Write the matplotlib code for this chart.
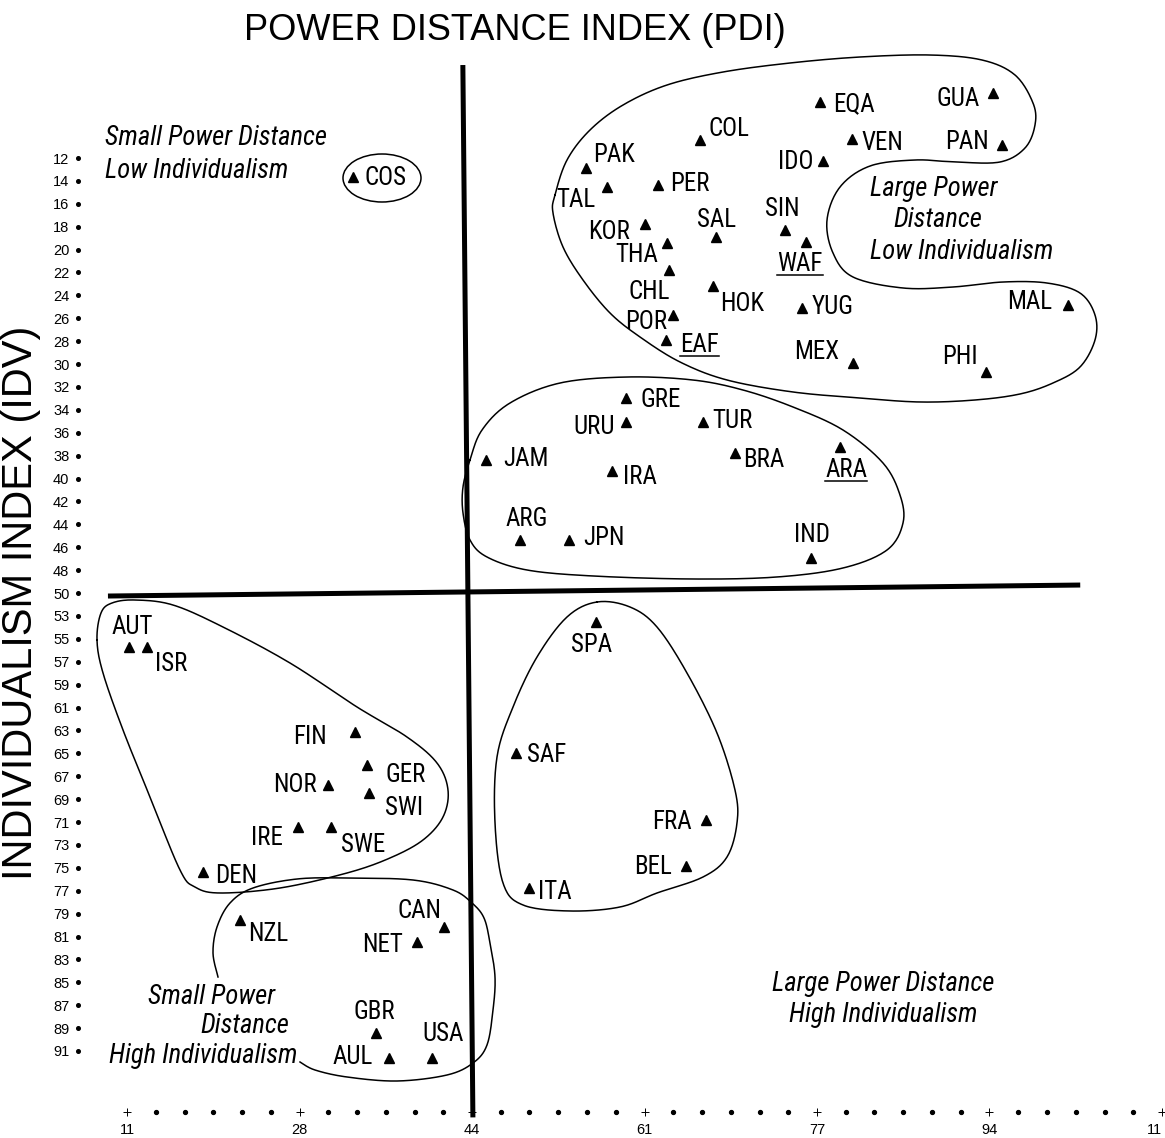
import numpy as np
import matplotlib
matplotlib.use('Agg')
import matplotlib.pyplot as plt
from matplotlib import font_manager
from matplotlib.transforms import Affine2D
from matplotlib.patches import Ellipse
from matplotlib.lines import Line2D

W, H = 1165, 1138

# Countries: Power Distance Index (x) vs Individualism Index (y)
countries = ['COS', 'PAK', 'TAL', 'COL', 'PER', 'IDO', 'SIN', 'WAF', 'KOR', 'THA',
             'SAL', 'CHL', 'HOK', 'POR', 'EAF', 'YUG', 'EQA', 'GUA', 'VEN', 'PAN',
             'MAL', 'MEX', 'PHI', 'GRE', 'URU', 'TUR', 'JAM', 'IRA', 'BRA', 'ARA',
             'ARG', 'JPN', 'IND', 'AUT', 'ISR', 'FIN', 'GER', 'NOR', 'SWI', 'IRE',
             'SWE', 'DEN', 'NZL', 'CAN', 'NET', 'GBR', 'AUL', 'USA', 'SPA', 'SAF',
             'FRA', 'BEL', 'ITA']
pdi = [32.8, 55.3, 57.4, 66.4, 62.3, 78.2, 74.6, 76.6, 61.0, 63.2,
       67.9, 63.4, 67.6, 63.8, 63.1, 76.2, 78.0, 94.7, 81.0, 95.5,
       101.9, 81.1, 94.0, 59.2, 59.2, 66.7, 45.7, 57.9, 69.7, 79.9,
       49.0, 53.7, 77.1, 11.2, 12.9, 33.0, 34.2, 30.4, 34.4, 27.5,
       30.7, 18.3, 21.9, 41.6, 39.0, 35.1, 36.3, 40.5, 56.3, 48.6,
       66.9, 65.0, 49.8]
idv = [13.7, 12.9, 14.5, 10.4, 14.4, 12.3, 18.3, 19.3, 17.8, 19.4,
       18.9, 21.8, 23.2, 25.7, 27.9, 25.1, 7.1, 6.3, 10.3, 10.9,
       24.8, 29.9, 30.7, 33.0, 35.1, 35.1, 38.4, 39.3, 37.8, 37.2,
       45.4, 45.4, 46.9, 55.7, 55.7, 63.1, 66.0, 67.8, 68.5, 71.4,
       71.4, 75.4, 79.6, 80.2, 81.5, 89.4, 91.6, 91.6, 53.5, 65.0,
       70.8, 74.8, 76.8]
underlined = ['WAF', 'EAF', 'ARA']  # regions

y_ticks = list(range(12, 51, 2)) + list(range(53, 92, 2))
x_tick_labels = ['11', '28', '44', '61', '77', '94', '11']
pdi_split, idv_split = 44, 50

# label placement: alignment, dx, dy in pixels (dy downwards)
label_pos = {
    'COS': ('left', 12, -1), 'PAK': ('left', 8, -15), 'TAL': ('right', -12, 11),
    'COL': ('left', 8, -13), 'PER': ('left', 12, -3), 'IDO': ('right', -9, -1),
    'SIN': ('center', -3, -23), 'WAF': ('center', -6, 20), 'KOR': ('right', -15, 6),
    'THA': ('right', -9, 10), 'SAL': ('center', 1, -19), 'CHL': ('center', -20, 20),
    'HOK': ('left', 7, 16), 'POR': ('right', -6, 5), 'EAF': ('left', 14, 3),
    'YUG': ('left', 10, -3), 'EQA': ('left', 13, 0), 'GUA': ('right', -14, 4),
    'VEN': ('left', 10, 2), 'PAN': ('right', -13, -5), 'MAL': ('right', -16, -5),
    'MEX': ('right', -13, -13), 'PHI': ('center', -26, -17), 'GRE': ('left', 15, 0),
    'URU': ('right', -11, 3), 'TUR': ('left', 9, -3), 'JAM': ('left', 17, -3),
    'IRA': ('left', 11, 4), 'BRA': ('left', 9, 5), 'ARA': ('center', 6, 21),
    'ARG': ('center', 6, -23), 'JPN': ('left', 14, -4), 'IND': ('center', 1, -25),
    'AUT': ('center', 3, -22), 'ISR': ('left', 8, 15), 'FIN': ('right', -28, 3),
    'GER': ('left', 18, 8), 'NOR': ('right', -11, -2), 'SWI': ('left', 16, 13),
    'IRE': ('right', -15, 9), 'SWE': ('left', 10, 16), 'DEN': ('left', 13, 2),
    'NZL': ('left', 8, 12), 'CAN': ('center', -24, -18), 'NET': ('right', -14, 1),
    'GBR': ('center', -2, -23), 'AUL': ('right', -16, -3), 'USA': ('center', 11, -26),
    'SPA': ('center', -4, 21), 'SAF': ('left', 11, 0), 'FRA': ('right', -14, 0),
    'BEL': ('right', -14, -1), 'ITA': ('left', 9, 2),
}


def idv_to_row(v):
    """Row position on the (non-linear) IDV axis."""
    v = np.asarray(v, float)
    return np.where(v <= 50, (v - 12) / 2,
                    np.where(v >= 53, 20 + (v - 53) / 2, 19 + (v - 50) / 3))


def smooth(pts, closed=True, n=16):
    """Catmull-Rom curve through hand-picked points."""
    p = np.asarray(pts, float)
    if closed:
        P = np.vstack([p[-1], p, p[0], p[1]])
        nseg = len(p)
    else:
        P = np.vstack([p[0], p, p[-1]])
        nseg = len(p) - 1
    t = np.linspace(0, 1, n, endpoint=False)[:, None]
    out = []
    for i in range(1, nseg + 1):
        p0, p1, p2, p3 = P[i - 1], P[i], P[i + 1], P[i + 2]
        out.append(0.5 * (2 * p1 + (-p0 + p2) * t + (2 * p0 - 5 * p1 + 4 * p2 - p3) * t ** 2
                          + (-p0 + 3 * p1 - 3 * p2 + p3) * t ** 3))
    out.append(P[nseg + 1][None, :] if not closed else p[:1])
    return np.vstack(out)


available = {f.name for f in font_manager.fontManager.ttflist}
narrow = 'Roboto'
for cand in ['Liberation Sans Narrow', 'Roboto Condensed', 'Open Sans Condensed']:
    if cand in available:
        narrow = cand
        break

fig = plt.figure(figsize=(W / 100, H / 100), dpi=100)
ax = fig.add_axes([127 / W, (H - 1051) / H, 1035 / W, 893 / H])
ax.set_xlim(11, 111)
ax.set_ylim(39, 0)
for s in ax.spines.values():
    s.set_visible(False)

# pixel frame for the hand-drawn outlines and free text
pix = Affine2D().scale(1 / W, -1 / H).translate(0, 1) + fig.transFigure

# axis ticks
rows = np.arange(len(y_ticks))
ax.set_yticks(rows, labels=[str(v) for v in y_ticks])
x_pos = np.linspace(11, 111, len(x_tick_labels))
ax.set_xticks(x_pos, labels=x_tick_labels)
ax.tick_params(axis='y', length=0, pad=41.5, labelsize=10.5)
ax.tick_params(axis='x', length=0, pad=52, labelsize=10.5)
for lab in ax.get_xticklabels() + ax.get_yticklabels():
    lab.set_family('Liberation Sans')
ax.get_xticklabels()[-1].set_ha('right')
ax.plot(np.full(len(rows), -49 / 1035), rows, 'o', ms=2.6, color='black',
        transform=ax.get_yaxis_transform(), clip_on=False)
dots = np.linspace(11, 111, 37)
row_axis = (1112 - 158) / 22.9
is_tick = np.isin(np.arange(37), np.arange(0, 37, 6))
ax.plot(dots[~is_tick], np.full((~is_tick).sum(), row_axis), 'o', ms=2.8,
        color='black', clip_on=False)
ax.plot(dots[is_tick], np.full(is_tick.sum(), row_axis), '+', ms=6, mew=0.7,
        color='black', clip_on=False)

# quadrant dividers
ax.plot([pdi_split - 0.55, pdi_split + 0.42], [-4.06, 41.9], color='black', lw=3.6,
        solid_capstyle='butt', clip_on=False)
ax.plot([9.16, 103.1], [idv_to_row(idv_split) + 0.13, idv_to_row(idv_split) - 0.35],
        color='black', lw=3.6, solid_capstyle='butt', clip_on=False)

# points and labels
rows_c = idv_to_row(idv)
ax.plot(pdi, rows_c, '^', ms=7.2, color='black', clip_on=False, lw=0)
texts = {}
for name, x, y in zip(countries, pdi, rows_c):
    ha, dx, dy = label_pos[name]
    texts[name] = ax.annotate(name, (x, y), xytext=(dx, -(dy + 9)), textcoords='offset pixels',
                              ha=ha, va='baseline', fontsize=18, family=narrow,
                              annotation_clip=False)

# cluster outlines
curve_kw = dict(color='black', lw=1.1, transform=pix, clip_on=False)
big = [(555, 195), (567, 160), (590, 130), (623, 105), (667, 85), (723, 72), (790, 63),
       (860, 57), (930, 55), (982, 60), (1015, 75), (1033, 103), (1035, 125), (1025, 148),
       (1000, 162), (955, 162), (915, 160), (870, 166), (840, 187), (827, 220), (833, 253),
       (853, 277), (903, 288), (953, 287), (1003, 282), (1047, 283), (1080, 293),
       (1095, 315), (1095, 340), (1080, 367), (1053, 383), (1020, 394), (975, 400),
       (920, 402), (860, 398), (793, 392), (727, 380), (680, 362), (640, 337), (610, 313),
       (583, 280), (563, 247), (553, 213)]
middle = [(470, 460), (463, 487), (463, 513), (470, 540), (487, 557), (527, 570),
          (593, 576), (693, 579), (777, 577), (843, 568), (887, 550), (903, 523),
          (900, 495), (883, 463), (843, 430), (793, 407), (743, 390), (693, 380),
          (627, 377), (560, 383), (510, 403), (482, 430)]
lower_left = [(97, 640), (101, 613), (112, 603), (135, 600), (173, 605), (223, 627),
              (290, 663), (357, 707), (407, 737), (437, 763), (448, 790), (443, 817),
              (423, 840), (390, 858), (347, 873), (280, 888), (220, 893), (195, 887),
              (180, 870), (150, 797), (123, 730), (103, 673)]
spa = [(597, 602), (630, 607), (657, 627), (687, 673), (717, 733), (735, 790),
       (737, 823), (727, 857), (703, 877), (657, 893), (620, 907), (570, 911),
       (523, 905), (503, 883), (495, 823), (497, 757), (513, 707), (537, 657), (567, 617)]
bottom = [(218, 977), (213, 953), (217, 927), (230, 903), (253, 888), (297, 879),
          (347, 878), (413, 880), (453, 890), (472, 903), (484, 918), (490, 943),
          (495, 977), (493, 1010), (487, 1045), (473, 1063), (447, 1075), (397, 1081),
          (347, 1077), (315, 1070), (300, 1062)]
for shape in [big, middle, lower_left, spa]:
    c = smooth(shape)
    ax.plot(c[:, 0], c[:, 1], **curve_kw)
c = smooth(bottom, closed=False)
ax.plot(c[:, 0], c[:, 1], **curve_kw)
ax.add_patch(Ellipse((382, 178), 78, 48, transform=pix, fill=False, color='black',
                     lw=1.1, clip_on=False))

# titles and quadrant notes
fig.text(515 / W, 1 - 30 / H, 'POWER DISTANCE INDEX (PDI)', ha='center', va='center',
         fontsize=26, family='Liberation Sans')
fig.text(21 / W, 1 - 603 / H, 'INDIVIDUALISM INDEX (IDV)', ha='center', va='center',
         rotation=90, fontsize=30, family='Liberation Sans')
note = dict(fontsize=19.2, style='italic', family=narrow, va='baseline', transform=pix)
ax.text(105, 145, 'Small Power Distance', **note)
ax.text(105, 178, 'Low Individualism', **note)
ax.text(870, 196, 'Large Power', **note)
ax.text(893, 227, 'Distance', **note)
ax.text(870, 259, 'Low Individualism', **note)
ax.text(148, 1004, 'Small Power', **note)
ax.text(200, 1033, 'Distance', **note)
ax.text(109, 1063, 'High Individualism', **note)
ax.text(883, 991, 'Large Power Distance', ha='center', **note)
ax.text(883, 1022, 'High Individualism', ha='center', **note)

# underline the regional groups
fig.canvas.draw()
renderer = fig.canvas.get_renderer()
for name in underlined:
    bb = texts[name].get_window_extent(renderer)
    fx0, fx1 = bb.x0 / fig.bbox.width, bb.x1 / fig.bbox.width
    fy = (bb.y0 + 1) / fig.bbox.height
    fig.add_artist(Line2D([fx0, fx1], [fy, fy], color='black', lw=1.1))

fig.savefig('out.png', dpi=100)
